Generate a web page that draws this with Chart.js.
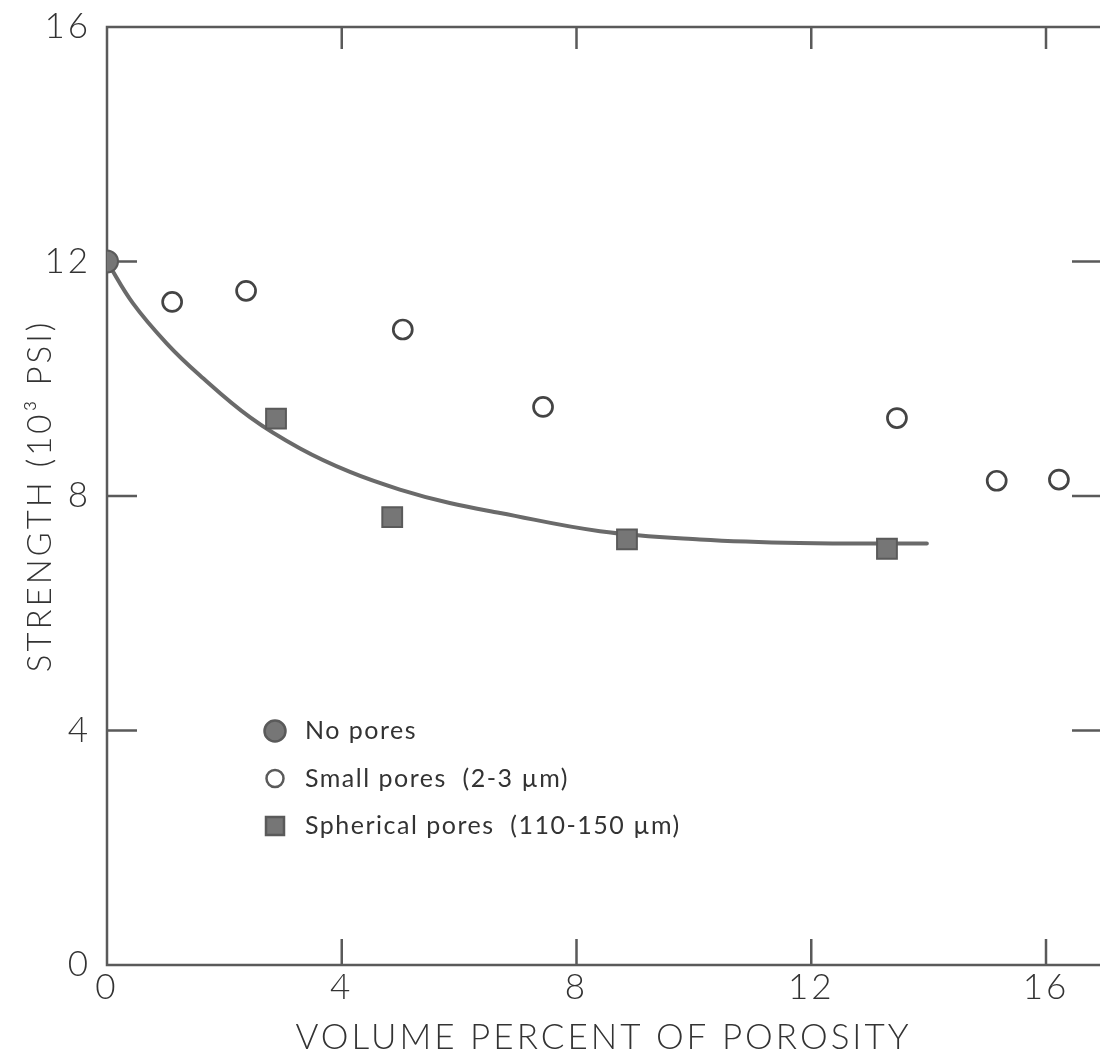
<!DOCTYPE html>
<html>
<head>
<meta charset="utf-8">
<title>Strength vs porosity</title>
<script src="https://cdn.jsdelivr.net/npm/chart.js@4.4.0/dist/chart.umd.min.js"></script>
<style>
  html, body { margin: 0; padding: 0; background: #fff; }
</style>
</head>
<body>
<canvas id="porosity-chart" width="1100" height="1059"></canvas>
<script>
// Data

const noPoresX = [0];
const noPoresY = [12];

const smallPoresX = [1.11, 2.37, 5.04, 7.43, 13.46, 15.16, 16.22];
const smallPoresY = [11.31, 11.5, 10.84, 9.52, 9.33, 8.26, 8.28];

const sphericalPoresX = [2.88, 4.86, 8.86, 13.29];
const sphericalPoresY = [9.32, 7.64, 7.26, 7.1];

// hand drawn fit through the spherical pores
const curveX = [0, 0.44, 1.02, 1.58, 2.44, 3.29, 4.14, 4.99, 5.84, 6.7, 8.4, 10.1, 11.8, 13.97];
const curveY = [12, 11.29, 10.6, 10.06, 9.34, 8.81, 8.41, 8.11, 7.88, 7.71, 7.4, 7.26, 7.2, 7.19];

const xTicks = [0, 4, 8, 12, 16];
const yTicks = [0, 4, 8, 12, 16];

const legendLabels = [
	"No pores",
	"Small pores  (2-3 \u00b5m)",
	"Spherical pores  (110-150 \u00b5m)",
];

const inkColor = "#5a5a5a";
const markColor = "#767676";
const fontFamily = "Lato, 'Open Sans', 'DejaVu Sans', sans-serif";

function toPoints(xs, ys) {
	return xs.map((x, i) => ({ x, y: ys[i] }));
}

// Frame and inward ticks (top, left, bottom, right)

const framePlugin = {
	id: "frame",
	beforeDraw(chart) {
		chart.ctx.letterSpacing = "3px";
	},
	beforeDatasetsDraw(chart) {
		const { ctx, chartArea: a, scales: { x, y } } = chart;
		ctx.save();
		ctx.strokeStyle = inkColor;
		ctx.lineWidth = 2.5;
		ctx.beginPath();
		ctx.moveTo(a.right, a.top);
		ctx.lineTo(a.left, a.top);
		ctx.lineTo(a.left, a.bottom);
		ctx.lineTo(a.right, a.bottom);
		x.ticks.forEach((t) => {
			if (t.value === 0) return;
			const px = x.getPixelForValue(t.value);
			ctx.moveTo(px, a.bottom);
			ctx.lineTo(px, a.bottom - 26);
			ctx.moveTo(px, a.top);
			ctx.lineTo(px, a.top + 22);
		});
		y.ticks.forEach((t) => {
			if (t.value === 0 || t.value === 16) return;
			const py = y.getPixelForValue(t.value);
			ctx.moveTo(a.left, py);
			ctx.lineTo(a.left + 30, py);
			ctx.moveTo(a.right, py);
			ctx.lineTo(a.right - 28, py);
		});
		ctx.stroke();
		ctx.restore();
	},
};

// Legend drawn inside the plot

const legendPlugin = {
	id: "innerLegend",
	afterDraw(chart) {
		const { ctx, chartArea: a } = chart;
		const mx = a.left + 168;
		const tx = a.left + 198;
		ctx.save();
		ctx.letterSpacing = "1.5px";
		ctx.font = `400 25px ${fontFamily}`;
		ctx.textBaseline = "middle";
		legendLabels.forEach((label, i) => {
			const my = a.top + 704 + i * 47.5;
			ctx.fillStyle = markColor;
			ctx.strokeStyle = inkColor;
			ctx.lineWidth = 2.5;
			ctx.beginPath();
			if (i === 0) {
				ctx.arc(mx, my, 10.5, 0, Math.PI * 2);
				ctx.fill();
				ctx.stroke();
			} else if (i === 1) {
				ctx.arc(mx, my, 8.5, 0, Math.PI * 2);
				ctx.stroke();
			} else {
				ctx.rect(mx - 9, my - 9, 18, 18);
				ctx.fill();
				ctx.stroke();
			}
			ctx.fillStyle = "#333";
			ctx.fillText(label, tx, my);
		});
		ctx.restore();
	},
};

new Chart(document.querySelector("#porosity-chart"), {
	type: "scatter",
	data: {
		datasets: [
			{
				label: legendLabels[0],
				data: toPoints(noPoresX, noPoresY),
				pointStyle: "circle",
				pointRadius: 11,
				backgroundColor: markColor,
				borderColor: inkColor,
				borderWidth: 2,
				order: 1,
			},
			{
				label: legendLabels[1],
				data: toPoints(smallPoresX, smallPoresY),
				pointStyle: "circle",
				pointRadius: 9.5,
				backgroundColor: "rgba(255,255,255,0)",
				borderColor: "#444",
				borderWidth: 2.7,
				order: 2,
			},
			{
				label: legendLabels[2],
				data: toPoints(sphericalPoresX, sphericalPoresY),
				pointStyle: "rect",
				pointRadius: 14,
				backgroundColor: markColor,
				borderColor: inkColor,
				borderWidth: 2,
				order: 3,
			},
			{
				label: "fit",
				type: "line",
				data: toPoints(curveX, curveY),
				showLine: true,
				pointRadius: 0,
				borderColor: "#6a6a6a",
				borderWidth: 4,
				borderCapStyle: "round",
				tension: 0.4,
				fill: false,
				order: 10,
			},
		],
	},
	options: {
		responsive: false,
		animation: false,
		layout: {
			autoPadding: false,
			padding: { left: 0, top: 27, right: 0, bottom: 0 },
		},
		plugins: {
			legend: { display: false },
			tooltip: { enabled: false },
		},
		scales: {
			x: {
				type: "linear",
				min: 0,
				max: 16.92,
				afterBuildTicks: (scale) => {
					scale.ticks = xTicks.map((v) => ({ value: v }));
				},
				afterFit: (scale) => {
					scale.height = 94;
					scale.paddingLeft = 0;
					scale.paddingRight = 0;
				},
				grid: { display: false },
				border: { display: false },
				ticks: {
					padding: -6,
					color: "#333",
					font: { family: fontFamily, size: 35, weight: 300 },
				},
				title: {
					display: true,
					text: "VOLUME PERCENT OF POROSITY",
					color: "#333",
					padding: { bottom: 0 },
					font: { family: fontFamily, size: 35, weight: 300 },
				},
			},
			y: {
				type: "linear",
				min: 0,
				max: 16,
				afterBuildTicks: (scale) => {
					scale.ticks = yTicks.map((v) => ({ value: v }));
				},
				afterFit: (scale) => {
					scale.width = 107;
					scale.paddingTop = 0;
					scale.paddingBottom = 0;
				},
				grid: { display: false },
				border: { display: false },
				ticks: {
					padding: 8,
					color: "#333",
					font: { family: fontFamily, size: 35, weight: 300 },
				},
				title: {
					display: true,
					text: "STRENGTH (10\u00b3 PSI)",
					color: "#333",
					padding: { top: 21 },
					font: { family: fontFamily, size: 33, weight: 300 },
				},
			},
		},
	},
	plugins: [framePlugin, legendPlugin],
});
</script>
</body>
</html>
